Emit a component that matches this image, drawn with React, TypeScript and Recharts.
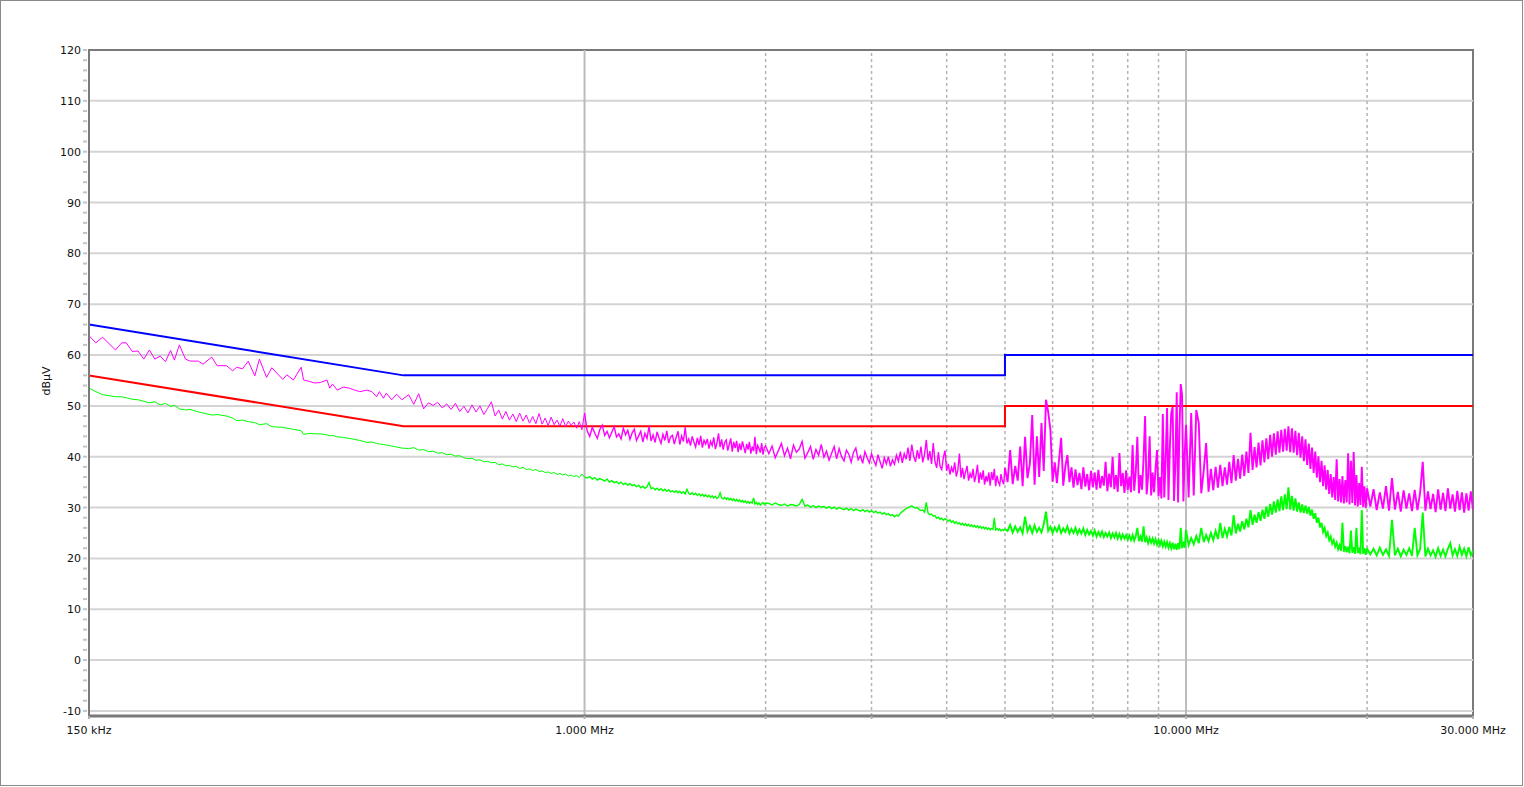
import React from 'react';
import { LineChart, Line, XAxis, YAxis, ReferenceLine, ReferenceArea } from 'recharts';

const FONT = '"DejaVu Sans", Verdana, sans-serif';

// ---- measured traces (MHz / dBµV) ----
const freqLow = [
  0.150, 0.154, 0.158, 0.166, 0.170, 0.173, 0.177, 0.181, 0.185, 0.189,
  0.193, 0.197, 0.201, 0.205, 0.208, 0.212, 0.217, 0.221, 0.228, 0.232,
  0.240, 0.245, 0.254, 0.260, 0.264, 0.270, 0.276, 0.283, 0.288, 0.296,
  0.302, 0.315, 0.320, 0.328, 0.338, 0.341, 0.349, 0.356, 0.364, 0.373,
  0.377, 0.381, 0.388, 0.397, 0.406, 0.415, 0.423, 0.435, 0.443, 0.451,
  0.456, 0.463, 0.468, 0.478, 0.487, 0.497,
  0.51, 0.52, 0.53, 0.54, 0.55, 0.56, 0.57, 0.58, 0.59, 0.60,
  0.61, 0.62, 0.63, 0.64, 0.65, 0.66, 0.67, 0.68, 0.69, 0.70,
  0.71, 0.72, 0.73, 0.74, 0.75, 0.76, 0.77, 0.78, 0.79, 0.80,
  0.81, 0.82, 0.83, 0.84, 0.85, 0.86, 0.87, 0.88, 0.89, 0.90,
  0.91, 0.92, 0.93, 0.94, 0.95, 0.96, 0.97, 0.98, 0.99, 1.00,
];
const peakLow = [
  63.8, 62.4, 63.5, 61.0, 62.4, 62.4, 60.7, 60.8, 59.2, 61.0,
  59.2, 59.8, 58.7, 60.9, 59.0, 62.0, 59.2, 58.8, 58.8, 58.2,
  59.6, 57.9, 57.9, 56.9, 57.6, 57.3, 58.8, 55.9, 59.2, 55.6,
  57.5, 55.2, 56.1, 55.1, 57.6, 55.1, 54.8, 54.5, 54.6, 55.1,
  53.5, 54.3, 53.1, 53.7, 53.5, 53.1, 52.8, 53.1, 52.8, 51.8,
  52.8, 51.5, 52.5, 51.2, 52.3, 51.2,
  52.2, 50.3, 52.4, 49.4, 50.6, 50.1, 50.7, 49.6, 50.4, 49.3,
  50.5, 48.9, 49.9, 48.6, 50.2, 48.8, 50.0, 48.3, 49.5, 50.8,
  48.0, 49.2, 47.4, 48.9, 47.2, 48.4, 46.9, 48.6, 47.0, 48.2,
  46.6, 47.9, 46.5, 48.5, 46.4, 47.6, 46.1, 47.8, 46.3, 47.2,
  46.0, 47.5, 45.9, 47.0, 46.2, 46.8, 45.6, 46.9, 45.3, 48.6,
];
const avgLow = [
  53.5, 52.8, 52.2, 51.8, 51.8, 51.6, 51.3, 51.2, 50.9, 50.6,
  50.8, 50.2, 50.5, 49.9, 50.1, 49.4, 49.2, 49.3, 48.8, 48.6,
  48.2, 48.3, 48.0, 47.6, 47.1, 47.2, 46.9, 46.7, 46.3, 46.5,
  45.9, 45.8, 45.6, 45.4, 45.1, 44.4, 44.6, 44.5, 44.5, 44.3,
  44.1, 44.2, 43.9, 43.8, 43.6, 43.4, 43.2, 42.8, 42.9, 42.6,
  42.5, 42.4, 42.3, 42.1, 41.9, 41.7,
  41.6, 41.8, 41.3, 41.4, 41.0, 41.1, 40.7, 40.8, 40.4, 40.5,
  40.1, 40.2, 39.8, 39.6, 39.7, 39.3, 39.4, 39.0, 39.1, 38.8,
  38.9, 38.4, 38.6, 38.2, 38.3, 38.0, 38.1, 37.7, 37.9, 37.5,
  37.6, 37.3, 37.5, 37.1, 37.2, 36.9, 37.0, 36.7, 36.9, 36.5,
  36.7, 36.4, 36.6, 36.2, 36.4, 36.1, 36.3, 35.9, 36.6, 36.0,
];

const freqMid = [
  1.01, 1.02, 1.03, 1.04, 1.05, 1.06, 1.07, 1.08, 1.09, 1.10,
  1.11, 1.12, 1.13, 1.14, 1.15, 1.16, 1.17, 1.18, 1.19, 1.20,
  1.21, 1.22, 1.23, 1.24, 1.25, 1.26, 1.27, 1.28, 1.29, 1.30,
  1.31, 1.32, 1.33, 1.34, 1.35, 1.36, 1.37, 1.38, 1.39, 1.40,
  1.41, 1.42, 1.43, 1.44, 1.45, 1.46, 1.47, 1.48, 1.49, 1.50,
  1.51, 1.52, 1.53, 1.54, 1.55, 1.56, 1.57, 1.58, 1.59, 1.60,
  1.61, 1.62, 1.63, 1.64, 1.65, 1.66, 1.67, 1.68, 1.69, 1.70,
  1.71, 1.72, 1.73, 1.74, 1.75, 1.76, 1.77, 1.78, 1.79, 1.80,
  1.81, 1.82, 1.83, 1.84, 1.85, 1.86, 1.87, 1.88, 1.89, 1.90,
  1.91, 1.92, 1.93, 1.94, 1.95, 1.96, 1.97, 1.98, 1.99, 2.00,
  2.025, 2.05, 2.075, 2.1, 2.125, 2.15, 2.175, 2.2, 2.225, 2.25,
  2.275, 2.3, 2.325, 2.35, 2.375, 2.4, 2.425, 2.45, 2.475, 2.5,
  2.525, 2.55, 2.575, 2.6, 2.625, 2.65, 2.675, 2.7, 2.725, 2.75,
  2.775, 2.8, 2.825, 2.85, 2.875, 2.9, 2.925, 2.95, 2.975, 3.0,
  3.025, 3.05, 3.075, 3.1, 3.125, 3.15, 3.175, 3.2, 3.225, 3.25,
  3.275, 3.3, 3.325, 3.35, 3.375, 3.4, 3.425, 3.45, 3.475, 3.5,
  3.525, 3.55, 3.575, 3.6, 3.625, 3.65, 3.675, 3.7, 3.725, 3.75,
  3.775, 3.8, 3.825, 3.85, 3.875, 3.9, 3.925, 3.95, 3.975, 4.0,
  4.025, 4.05, 4.075, 4.1, 4.125, 4.15, 4.175, 4.2, 4.225, 4.25,
  4.275, 4.3, 4.325, 4.35, 4.375, 4.4, 4.425, 4.45, 4.475, 4.5,
  4.525, 4.55, 4.575, 4.6, 4.625, 4.65, 4.675, 4.7, 4.725, 4.75,
  4.775, 4.8, 4.825, 4.85, 4.875, 4.9, 4.925, 4.95, 4.975, 5.0,
];
const peakMid = [
  45.1, 44.0, 45.8, 44.6, 43.6, 45.3, 46.2, 44.2, 45.0, 43.7,
  44.8, 45.9, 43.9, 44.5, 43.5, 45.6, 44.3, 45.2, 43.4, 44.7,
  45.4, 43.2, 44.1, 45.0, 42.9, 44.6, 43.6, 45.9, 43.1, 44.3,
  42.8, 44.9, 43.7, 42.6, 44.4, 43.2, 45.1, 42.7, 43.9, 44.2,
  42.5, 43.8, 45.0, 42.4, 44.1, 43.0, 45.8, 42.6, 43.5, 42.2,
  44.0, 42.9, 41.9, 43.7, 42.3, 44.1, 41.8, 43.2, 42.5, 43.5,
  41.6, 43.0, 42.2, 43.8, 41.5, 42.7, 44.6, 41.9, 43.4, 41.4,
  42.8, 43.3, 41.2, 42.4, 43.6, 41.0, 42.9, 41.7, 43.1, 40.9,
  42.6, 41.3, 43.0, 41.9, 40.7, 42.5, 41.4, 42.9, 40.6, 42.0,
  41.1, 43.9, 40.5, 42.2, 41.6, 40.8, 42.7, 40.4, 41.8, 42.1,
  40.6, 42.1, 39.8, 41.2, 42.6, 40.2, 41.7, 39.6, 42.3, 40.9,
  41.5, 43.0, 39.7, 40.8, 42.0, 39.5, 41.4, 40.3, 42.4, 39.9,
  41.1, 39.3, 40.7, 42.0, 39.6, 41.6, 40.0, 39.2, 41.3, 40.5,
  38.9, 40.9, 41.7, 39.4, 40.2, 38.7, 41.0, 39.8, 38.8, 40.6,
  39.3, 38.3, 40.4, 39.0, 37.7, 39.8, 38.6, 40.0, 38.1, 39.4,
  38.5, 40.3, 39.1, 41.0, 38.8, 40.6, 39.5, 41.8, 39.2, 42.4,
  40.1, 39.0, 41.3, 39.6, 42.0, 38.9, 40.5, 43.3, 39.3, 41.1,
  38.6, 42.7, 39.0, 37.8, 40.9, 38.1, 37.5, 39.9, 41.2, 37.2,
  38.6, 36.5, 37.9, 36.9, 38.9, 36.1, 37.4, 40.6, 35.9, 37.8,
  35.6, 37.0, 38.2, 35.3, 36.7, 35.8, 37.6, 35.0, 36.4, 38.4,
  34.8, 36.9, 35.5, 37.3, 34.5, 36.2, 35.1, 36.9, 34.3, 37.0,
  35.4, 37.6, 34.2, 36.3, 35.0, 34.4, 36.6, 35.2, 34.6, 37.8,
];
const avgMid = [
  35.8, 36.1, 35.6, 35.9, 35.4, 35.7, 35.5, 35.2, 35.6, 35.0,
  35.3, 34.9, 35.1, 34.7, 35.0, 34.5, 34.8, 34.4, 34.7, 34.3,
  34.5, 34.1, 34.4, 33.9, 34.2, 33.8, 34.1, 34.9, 33.7, 33.9,
  33.5, 33.8, 33.4, 33.7, 33.3, 33.6, 33.2, 33.5, 33.1, 33.3,
  33.0, 33.3, 32.9, 33.2, 32.8, 33.1, 32.7, 33.6, 32.8, 32.6,
  32.9, 32.5, 32.8, 32.4, 32.7, 32.3, 32.6, 32.2, 32.5, 32.1,
  32.4, 32.0, 32.3, 31.9, 32.2, 31.8, 32.1, 32.9, 31.9, 31.7,
  32.0, 31.6, 31.9, 31.5, 31.8, 31.4, 31.7, 31.3, 31.6, 31.2,
  31.5, 31.1, 31.4, 31.0, 31.3, 30.9, 31.2, 30.8, 31.1, 30.9,
  31.9, 30.7, 31.0, 30.6, 30.9, 30.5, 30.8, 31.0, 30.6, 30.9,
  30.8, 30.5, 30.9, 30.6, 30.4, 30.7, 30.3, 30.6, 30.5, 30.3,
  30.6, 31.6, 30.3, 30.5, 30.1, 30.4, 30.0, 30.3, 30.1, 30.2,
  29.9, 30.2, 29.8, 30.1, 29.7, 30.0, 29.8, 29.6, 29.9, 29.5,
  29.8, 29.4, 29.7, 29.5, 29.3, 29.6, 29.2, 29.5, 29.1, 29.4,
  29.0, 29.3, 28.9, 29.1, 28.7, 29.0, 28.6, 28.8, 28.4, 28.6,
  28.2, 28.5, 28.3, 28.9, 29.2, 29.5, 29.8, 30.0, 30.2, 30.3,
  30.1, 29.9, 30.0, 29.6, 29.4, 29.5, 29.1, 31.0, 28.9, 28.6,
  28.7, 28.3, 28.4, 27.9, 28.1, 27.7, 27.9, 27.5, 27.8, 27.6,
  27.3, 27.6, 27.1, 27.4, 26.9, 27.2, 26.8, 27.0, 26.6, 26.9,
  26.5, 26.8, 26.4, 26.7, 26.3, 26.6, 26.2, 26.5, 26.1, 26.4,
  26.0, 26.3, 25.9, 26.2, 25.8, 26.1, 25.7, 26.0, 25.6, 25.9,
  25.7, 28.0, 25.6, 25.9, 25.5, 25.8, 25.4, 25.7, 25.5, 25.8,
];

const freqHigh = [
  5.05, 5.1, 5.15, 5.2, 5.25, 5.3, 5.35, 5.4, 5.45, 5.5,
  5.55, 5.6, 5.65, 5.7, 5.75, 5.8, 5.85, 5.9, 5.95, 6.0,
  6.05, 6.1, 6.15, 6.2, 6.25, 6.3, 6.35, 6.4, 6.45, 6.5,
  6.55, 6.6, 6.65, 6.7, 6.75, 6.8, 6.85, 6.9, 6.95, 7.0,
  7.05, 7.1, 7.15, 7.2, 7.25, 7.3, 7.35, 7.4, 7.45, 7.5,
  7.55, 7.6, 7.65, 7.7, 7.75, 7.8, 7.85, 7.9, 7.95, 8.0,
  8.05, 8.1, 8.15, 8.2, 8.25, 8.3, 8.35, 8.4, 8.45, 8.5,
  8.55, 8.6, 8.65, 8.7, 8.75, 8.8, 8.85, 8.9, 8.95, 9.0,
  9.05, 9.1, 9.15, 9.2, 9.25, 9.3, 9.35, 9.4, 9.45, 9.5,
  9.55, 9.6, 9.65, 9.7, 9.75, 9.8, 9.85, 9.9, 9.95, 10.0,
  10.1, 10.2, 10.3, 10.4, 10.5, 10.6, 10.7, 10.8, 10.9, 11.0,
  11.1, 11.2, 11.3, 11.4, 11.5, 11.6, 11.7, 11.8, 11.9, 12.0,
  12.1, 12.2, 12.3, 12.4, 12.5, 12.6, 12.7, 12.8, 12.9, 13.0,
  13.1, 13.2, 13.3, 13.4, 13.5, 13.6, 13.7, 13.8, 13.9, 14.0,
  14.1, 14.2, 14.3, 14.4, 14.5, 14.6, 14.7, 14.8, 14.9, 15.0,
  15.1, 15.2, 15.3, 15.4, 15.5, 15.6, 15.7, 15.8, 15.9, 16.0,
  16.1, 16.2, 16.3, 16.4, 16.5, 16.6, 16.7, 16.8, 16.9, 17.0,
  17.1, 17.2, 17.3, 17.4, 17.5, 17.6, 17.7, 17.8, 17.9, 18.0,
  18.1, 18.2, 18.3, 18.4, 18.5, 18.6, 18.7, 18.8, 18.9, 19.0,
  19.1, 19.2, 19.3, 19.4, 19.5, 19.6, 19.7, 19.8, 19.9, 20.0,
  20.25, 20.5, 20.75, 21.0, 21.25, 21.5, 21.75, 22.0, 22.25, 22.5,
  22.75, 23.0, 23.25, 23.5, 23.75, 24.0, 24.25, 24.5, 24.75, 25.0,
  25.25, 25.5, 25.75, 26.0, 26.25, 26.5, 26.75, 27.0, 27.25, 27.5,
  27.75, 28.0, 28.25, 28.5, 28.75, 29.0, 29.25, 29.5, 29.75, 30.0,
];
const peakHigh = [
  35.0, 41.3, 34.6, 38.2, 35.3, 42.0, 34.2, 43.9, 35.8, 38.6,
  48.2, 34.5, 44.0, 36.0, 46.6, 37.2, 51.2, 48.8, 45.3, 35.1,
  38.9, 34.8, 39.4, 43.7, 34.3, 38.1, 40.3, 35.0, 37.9, 33.9,
  37.5, 34.4, 36.8, 33.6, 37.9, 34.1, 36.6, 33.4, 37.2, 34.0,
  36.9, 33.5, 37.4, 33.8, 36.2, 34.3, 39.0, 33.2, 36.7, 34.0,
  40.0, 33.6, 36.4, 33.1, 40.7, 34.2, 36.8, 32.9, 37.3, 33.4,
  36.1, 33.0, 42.3, 33.3, 37.0, 43.9, 32.8, 36.4, 33.5, 39.8,
  48.0, 32.6, 36.2, 44.0, 32.4, 36.9, 33.0, 37.8, 41.3, 32.2,
  36.0, 31.8, 48.4, 32.0, 39.5, 49.6, 31.5, 42.0, 48.6, 49.8,
  31.3, 38.4, 52.7, 31.0, 45.0, 54.3, 52.2, 31.2, 40.6, 46.3,
  32.0, 48.6, 32.4, 49.2, 46.6, 32.8, 37.2, 42.7, 33.1, 37.6,
  33.4, 38.0, 33.9, 38.4, 34.2, 37.9, 34.5, 39.0, 34.8, 40.3,
  35.3, 39.6, 35.7, 40.4, 36.2, 41.0, 36.8, 44.7, 37.4, 41.9,
  37.9, 42.8, 38.3, 43.2, 38.9, 43.6, 39.5, 44.3, 40.0, 44.6,
  40.4, 45.0, 40.8, 45.3, 41.0, 45.5, 41.2, 46.0, 40.9, 45.6,
  40.8, 45.1, 40.3, 44.7, 39.8, 44.0, 39.1, 43.4, 38.4, 42.6,
  37.6, 41.8, 36.8, 41.0, 35.9, 40.1, 35.0, 39.2, 34.2, 38.3,
  33.5, 37.4, 32.7, 36.6, 32.0, 36.0, 31.5, 39.5, 31.2, 35.6,
  31.0, 36.2, 30.8, 35.4, 31.0, 40.7, 30.6, 39.2, 30.9, 40.9,
  30.4, 36.4, 30.2, 34.8, 30.5, 38.0, 30.1, 34.2, 29.9, 33.8,
  30.2, 33.6, 29.5, 33.0, 29.8, 34.2, 29.4, 35.8, 29.6, 33.1,
  29.2, 33.4, 29.8, 32.8, 29.3, 33.5, 29.5, 32.9, 39.0, 29.4,
  33.2, 29.7, 32.7, 29.1, 33.6, 29.6, 32.9, 29.3, 33.8, 29.8,
  32.6, 29.2, 33.3, 29.5, 33.0, 29.0, 32.8, 29.4, 33.2, 29.6,
];
const avgHigh = [
  25.4, 26.6, 25.1, 26.3, 25.2, 26.1, 24.9, 28.2, 25.3, 26.4,
  25.0, 26.5, 25.2, 26.0, 25.1, 26.7, 29.2, 25.4, 26.2, 25.0,
  26.1, 25.3, 26.4, 25.0, 25.9, 25.2, 26.3, 24.9, 25.8, 25.0,
  26.0, 24.8, 25.7, 24.9, 25.9, 24.6, 25.6, 24.7, 25.4, 24.5,
  25.5, 24.3, 25.2, 24.4, 25.3, 24.2, 25.0, 24.3, 25.1, 24.0,
  24.9, 24.1, 25.0, 23.9, 24.8, 23.8, 24.7, 23.9, 24.6, 23.7,
  24.5, 23.6, 24.6, 23.5, 24.4, 26.0, 23.4, 24.3, 23.3, 26.3,
  23.2, 24.1, 23.0, 24.0, 23.1, 23.9, 22.9, 23.8, 22.7, 23.6,
  22.6, 23.5, 22.4, 23.3, 22.3, 23.2, 22.1, 23.0, 22.0, 23.1,
  21.8, 22.9, 21.7, 23.0, 21.8, 26.0, 22.0, 23.3, 22.1, 25.6,
  22.6, 24.0, 22.8, 24.4, 23.0, 26.0, 23.2, 24.6, 23.4, 25.0,
  23.6, 25.4, 23.8, 27.0, 24.0, 25.8, 24.3, 26.2, 24.5, 28.5,
  24.9, 26.8, 25.3, 27.3, 25.7, 27.8, 26.1, 29.5, 26.6, 28.6,
  27.0, 29.1, 27.4, 29.6, 27.8, 30.2, 28.2, 30.7, 28.6, 31.2,
  29.0, 31.6, 29.3, 32.2, 29.5, 32.6, 29.7, 34.0, 29.6, 32.3,
  29.4, 31.8, 29.2, 31.0, 29.0, 30.6, 28.9, 30.4, 28.8, 30.1,
  28.4, 29.6, 27.8, 28.9, 27.0, 28.0, 26.1, 27.0, 25.2, 26.0,
  24.4, 25.1, 23.6, 24.3, 22.9, 23.6, 22.3, 23.1, 21.8, 22.6,
  21.5, 27.0, 21.3, 22.4, 21.2, 22.3, 21.0, 25.5, 21.1, 22.2,
  20.9, 26.0, 21.0, 22.1, 20.8, 29.5, 20.9, 22.0, 20.7, 21.9,
  20.8, 21.9, 20.6, 22.1, 20.7, 21.8, 20.5, 27.6, 20.6, 21.9,
  20.4, 21.7, 20.7, 22.0, 20.5, 26.0, 20.6, 21.8, 29.0, 20.4,
  21.9, 20.6, 21.6, 20.3, 22.0, 20.5, 21.7, 20.4, 21.9, 23.0,
  20.6, 21.8, 20.5, 22.3, 20.7, 21.9, 20.4, 22.2, 20.6, 21.5,
];

// ---- limit lines ----
const qpFreq = [0.15, 0.5, 5, 5, 30];
const qpLevel = [66, 56, 56, 60, 60];
const avFreq = [0.15, 0.5, 5, 5, 30];
const avLevel = [56, 46, 46, 50, 50];

// ---- axes ----
const yMajor = [-10, 0, 10, 20, 30, 40, 50, 60, 70, 80, 90, 100, 110, 120];
const yMinor = [-8, -6, -4, -2, 2, 4, 6, 8, 12, 14, 16, 18, 22, 24, 26, 28, 32, 34, 36, 38,
  42, 44, 46, 48, 52, 54, 56, 58, 62, 64, 66, 68, 72, 74, 76, 78, 82, 84, 86, 88,
  92, 94, 96, 98, 102, 104, 106, 108, 112, 114, 116, 118];
const hGrid = [-10, 0, 10, 20, 30, 40, 50, 60, 70, 80, 90, 100, 110];
const vGridSolid = [1, 10];
const vGridDashed = [2, 3, 4, 5, 6, 7, 8, 9, 20];
const xLabelValues = [0.15, 1, 10, 30];
const xLabelTexts = ['150 kHz', '1.000 MHz', '10.000 MHz', '30.000 MHz'];
const xTicks = [0.15, 1, 2, 3, 4, 5, 6, 7, 8, 9, 10, 20, 30];
const yTicks = [...yMajor, ...yMinor].sort((a, b) => a - b);

const zip = (fs: number[], vs: number[]) => fs.map((f, i) => ({ f, v: vs[i] }));
const peakLowData = zip(freqLow, peakLow);
const avgLowData = zip(freqLow, avgLow);
const peakMidData = [{ f: 1.0, v: peakLow[peakLow.length - 1] }, ...zip(freqMid, peakMid)];
const avgMidData = [{ f: 1.0, v: avgLow[avgLow.length - 1] }, ...zip(freqMid, avgMid)];
const peakHighData = [{ f: 5.0, v: peakMid[peakMid.length - 1] }, ...zip(freqHigh, peakHigh)];
const avgHighData = [{ f: 5.0, v: avgMid[avgMid.length - 1] }, ...zip(freqHigh, avgHigh)];
const qpData = zip(qpFreq, qpLevel);
const avLimData = zip(avFreq, avLevel);

const YTick = (props: any) => {
  const { x, y, payload } = props;
  const v = payload.value;
  return (
    <g>
      <line x1={x + 2} x2={x + 6} y1={y} y2={y} stroke="#c4c4c4" strokeWidth={2} />
      {yMajor.includes(v) && (
        <text x={x} y={y} dy={4} textAnchor="end" fontFamily={FONT} fontSize={11} fill="#111">
          {v}
        </text>
      )}
    </g>
  );
};

const XTick = (props: any) => {
  const { x, y, payload } = props;
  const idx = xLabelValues.indexOf(payload.value);
  return (
    <g>
      <line x1={x} x2={x} y1={y - 8} y2={y - 5} stroke="#b0b0b0" strokeWidth={2} />
      {idx >= 0 && (
        <text x={x} y={y + 10} textAnchor="middle" fontFamily={FONT} fontSize={11} fill="#111">
          {xLabelTexts[idx]}
        </text>
      )}
    </g>
  );
};

export default function App() {
  return (
    <div style={{ position: 'absolute', left: 0, top: 0, width: 1524, height: 787, background: '#fff' }}>
      <div
        style={{
          position: 'absolute', left: 0, top: 0, width: 1523, height: 786,
          border: '1px solid #8a8a8a', boxSizing: 'border-box',
        }}
      />
      <LineChart
        width={1524}
        height={787}
        margin={{ top: 50, right: 51, bottom: 41, left: 29 }}
        style={{ position: 'absolute', left: 0, top: 0 }}
      >
        <XAxis
          dataKey="f"
          type="number"
          scale="log"
          domain={[0.15, 30]}
          allowDataOverflow
          ticks={xTicks}
          tick={<XTick />}
          tickLine={false}
          height={30}
          axisLine={{ stroke: '#7a7a7a', strokeWidth: 3 }}
          interval={0}
        />
        <YAxis
          type="number"
          domain={[-11, 120]}
          allowDataOverflow
          ticks={yTicks}
          tick={<YTick />}
          tickLine={false}
          width={60}
          interval={0}
          axisLine={{ stroke: '#7a7a7a', strokeWidth: 2 }}
          label={{
            content: () => (
              <text
                x={50}
                y={381}
                transform="rotate(-90 50 381)"
                textAnchor="middle"
                fontFamily={FONT}
                fontSize={11}
                fill="#111"
              >
                dBµV
              </text>
            ),
          }}
        />
        {hGrid.map((v) => (
          <ReferenceLine key={'h' + v} y={v} stroke="#d4d4d4" strokeWidth={2} />
        ))}
        {vGridSolid.map((v) => (
          <ReferenceLine key={'vs' + v} x={v} stroke="#bcbcbc" strokeWidth={2} />
        ))}
        {vGridDashed.map((v) => (
          <ReferenceLine key={'vd' + v} x={v} stroke="#b4b4b4" strokeWidth={1.5} strokeDasharray="3 3" />
        ))}
        <ReferenceArea x1={0.15} x2={30} y1={-11} y2={120} fill="none" stroke="#7a7a7a" strokeWidth={2} />
        <Line data={qpData} dataKey="v" type="linear" stroke="#0000ff" strokeWidth={2} dot={false} isAnimationActive={false} />
        <Line data={avLimData} dataKey="v" type="linear" stroke="#ff0000" strokeWidth={2} dot={false} isAnimationActive={false} />
        <Line data={avgLowData} dataKey="v" type="linear" stroke="#00ff00" strokeWidth={1} dot={false} isAnimationActive={false} />
        <Line data={avgMidData} dataKey="v" type="linear" stroke="#00ff00" strokeWidth={1.4} dot={false} isAnimationActive={false} />
        <Line data={avgHighData} dataKey="v" type="linear" stroke="#00ff00" strokeWidth={1.9} dot={false} isAnimationActive={false} />
        <Line data={peakLowData} dataKey="v" type="linear" stroke="#ff00ff" strokeWidth={1} dot={false} isAnimationActive={false} />
        <Line data={peakMidData} dataKey="v" type="linear" stroke="#ff00ff" strokeWidth={1.4} dot={false} isAnimationActive={false} />
        <Line data={peakHighData} dataKey="v" type="linear" stroke="#ff00ff" strokeWidth={1.9} dot={false} isAnimationActive={false} />
      </LineChart>
    </div>
  );
}
